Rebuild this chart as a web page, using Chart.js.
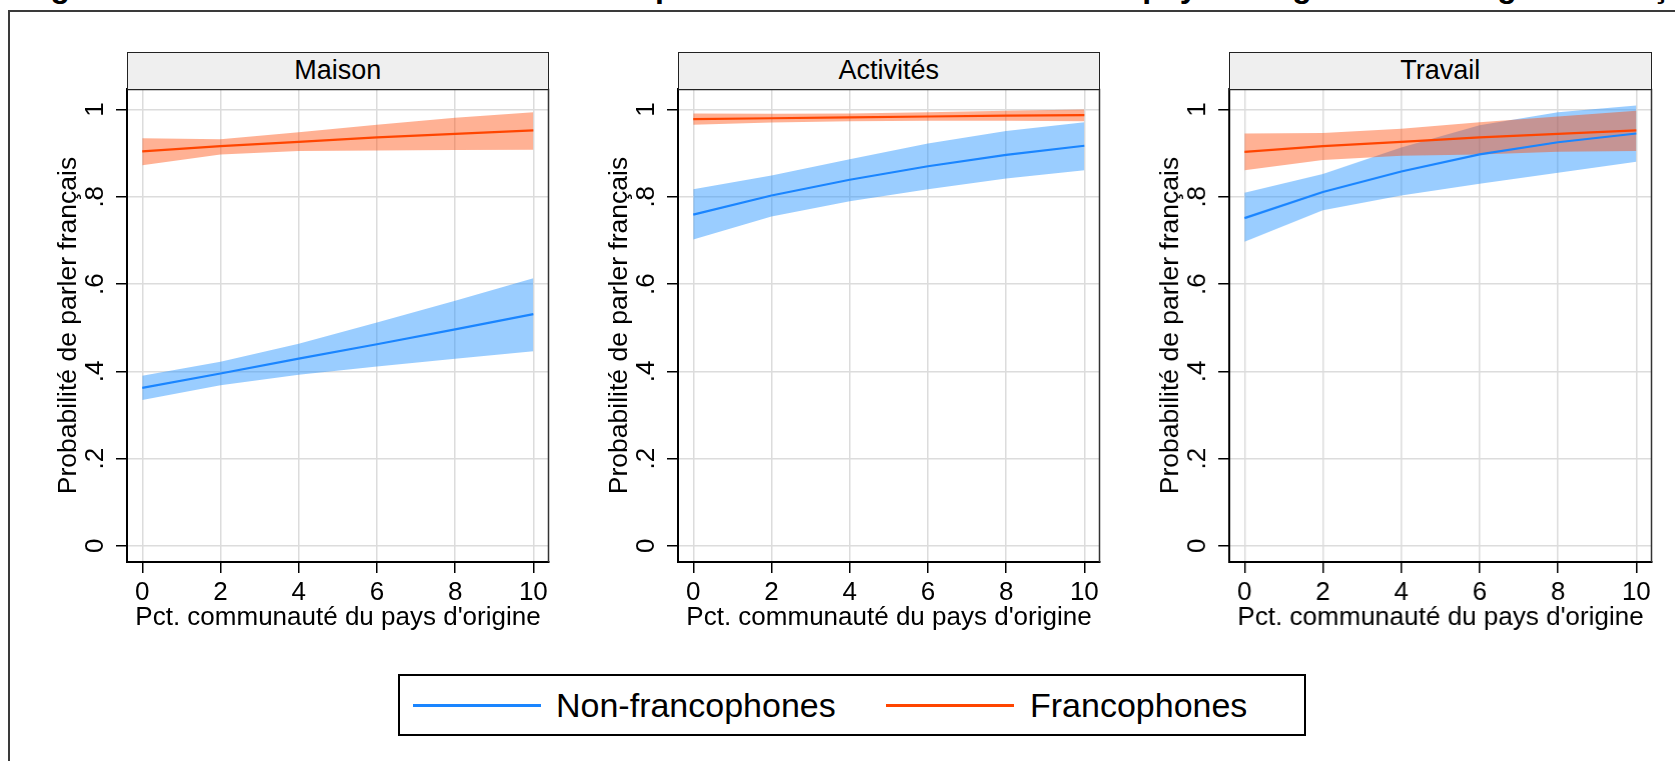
<!DOCTYPE html>
<html>
<head>
<meta charset="utf-8">
<script src="https://cdn.jsdelivr.net/npm/chart.js@4.4.1/dist/chart.umd.min.js"></script>
<style>
  html, body { margin:0; padding:0; }
  body { width:1675px; height:761px; overflow:hidden; background:#fff; position:relative;
         font-family:"Liberation Sans", Arial, Helvetica, sans-serif; color:#000; }
  #frame { position:absolute; left:8px; top:10px; width:1720px; height:820px;
           border:2px solid #3a3a3a; box-sizing:border-box; }
  #title { position:absolute; left:22px; top:-30px; font-weight:bold; font-size:32px;
           line-height:32px; white-space:nowrap; }
  .strip { position:absolute; height:38px; background:#efefef; border:1.5px solid #222;
           box-sizing:border-box; text-align:center; font-size:27px; line-height:35px; }
  .panel { position:absolute; }
  #legend { position:absolute; left:398px; top:674px; width:908px; height:62px;
            border:2px solid #000; box-sizing:border-box; background:#fff; }
  .lgline { position:absolute; top:28px; height:3px; width:128px; }
  .lgtext { position:absolute; top:8px; font-size:34px; line-height:42px; white-space:nowrap; }
</style>
</head>
<body>
<div id="frame"></div>
<div id="title">Figure 11 : Effet de la concentration de la présence des communautés du pays d'origine sur l'usage du français</div>
<div id="panels"></div>
<div id="legend"></div>
<script>
// ---------- data ----------
const panelNames = ["Maison", "Activités", "Travail"];
const seriesNames = ["Non-francophones", "Francophones"];
const xValues = [0, 2, 4, 6, 8, 10];
const xTicks = [0, 2, 4, 6, 8, 10];
const yTicks = [0, 0.2, 0.4, 0.6, 0.8, 1];
const yTickLabels = ["0", ".2", ".4", ".6", ".8", "1"];
const xTitle = "Pct. communauté du pays d'origine";
const yTitle = "Probabilité de parler français";

// Maison
const maisonNonFr     = [0.362, 0.395, 0.429, 0.462, 0.496, 0.531];
const maisonNonFrLow  = [0.334, 0.368, 0.392, 0.411, 0.429, 0.446];
const maisonNonFrHigh = [0.390, 0.422, 0.463, 0.512, 0.562, 0.613];
const maisonFr        = [0.904, 0.916, 0.926, 0.936, 0.944, 0.952];
const maisonFrLow     = [0.872, 0.897, 0.905, 0.906, 0.907, 0.908];
const maisonFrHigh    = [0.934, 0.932, 0.948, 0.965, 0.981, 0.994];
// Activités
const activNonFr      = [0.759, 0.803, 0.839, 0.870, 0.896, 0.917];
const activNonFrLow   = [0.702, 0.755, 0.790, 0.817, 0.842, 0.861];
const activNonFrHigh  = [0.817, 0.849, 0.886, 0.922, 0.951, 0.971];
const activFr         = [0.978, 0.980, 0.982, 0.984, 0.986, 0.987];
const activFrLow      = [0.965, 0.970, 0.973, 0.974, 0.974, 0.973];
const activFrHigh     = [0.991, 0.990, 0.991, 0.994, 0.997, 1.000];
// Travail
const travNonFr       = [0.751, 0.811, 0.858, 0.897, 0.925, 0.945];
const travNonFrLow    = [0.697, 0.769, 0.803, 0.830, 0.855, 0.880];
const travNonFrHigh   = [0.809, 0.852, 0.913, 0.964, 0.994, 1.009];
const travFr          = [0.903, 0.916, 0.926, 0.936, 0.944, 0.952];
const travFrLow       = [0.861, 0.884, 0.894, 0.897, 0.903, 0.905];
const travFrHigh      = [0.945, 0.946, 0.956, 0.971, 0.984, 0.997];

const panelData = [
  { nonFr: maisonNonFr, nonFrLow: maisonNonFrLow, nonFrHigh: maisonNonFrHigh, fr: maisonFr, frLow: maisonFrLow, frHigh: maisonFrHigh },
  { nonFr: activNonFr,  nonFrLow: activNonFrLow,  nonFrHigh: activNonFrHigh,  fr: activFr,  frLow: activFrLow,  frHigh: activFrHigh },
  { nonFr: travNonFr,   nonFrLow: travNonFrLow,   nonFrHigh: travNonFrHigh,   fr: travFr,   frLow: travFrLow,   frHigh: travFrHigh }
];

// ---------- style / layout ----------
const FONT = '"Liberation Sans", Arial, Helvetica, sans-serif';
const BLUE = '#1a85ff';
const ORANGE = '#ff4500';
const BLUE_BAND = 'rgba(30,144,255,0.45)';
const ORANGE_BAND = 'rgba(255,69,0,0.42)';
const plotLefts = [126.5, 677.5, 1229];
const plotWidth = 422.5;
const plotTop = 89;
const plotHeight = 473;
const AXIS_W = 120, PAD_TOP = 30, PAD_RIGHT = 20, XAXIS_H = 80;

Chart.defaults.font.family = FONT;
Chart.defaults.color = '#000';

function pts(arr) { return xValues.map((x, i) => ({ x: x, y: arr[i] })); }

const framePlugin = {
  id: 'frameLines',
  afterDatasetsDraw(chart) {
    const a = chart.chartArea, c = chart.ctx;
    c.save();
    c.strokeStyle = '#333';
    c.lineWidth = 1.5;
    c.beginPath();
    c.moveTo(a.left, a.top + 0.5); c.lineTo(a.right - 0.5, a.top + 0.5);
    c.lineTo(a.right - 0.5, a.bottom);
    c.stroke();
    c.restore();
  }
};

const panelsDiv = document.getElementById('panels');
panelNames.forEach((name, idx) => {
  const strip = document.createElement('div');
  strip.className = 'strip';
  strip.style.left = plotLefts[idx] + 'px';
  strip.style.top = (plotTop - 37) + 'px';
  strip.style.width = plotWidth + 'px';
  strip.textContent = name;

  const wrap = document.createElement('div');
  wrap.className = 'panel';
  const cw = AXIS_W + plotWidth + PAD_RIGHT, ch = PAD_TOP + plotHeight + XAXIS_H;
  wrap.style.left = (plotLefts[idx] - AXIS_W) + 'px';
  wrap.style.top = (plotTop - PAD_TOP) + 'px';
  wrap.style.width = cw + 'px';
  wrap.style.height = ch + 'px';
  const cv = document.createElement('canvas');
  cv.width = cw; cv.height = ch;
  cv.style.width = cw + 'px'; cv.style.height = ch + 'px';
  wrap.appendChild(cv);
  panelsDiv.appendChild(wrap);
  panelsDiv.appendChild(strip);

  const d = panelData[idx];
  new Chart(cv.getContext('2d'), {
    type: 'line',
    data: {
      datasets: [
        { label: seriesNames[0] + ' bas', data: pts(d.nonFrLow), borderWidth: 0, pointRadius: 0, fill: false, order: 3 },
        { label: seriesNames[0] + ' haut', data: pts(d.nonFrHigh), borderWidth: 0, pointRadius: 0, fill: '-1', backgroundColor: BLUE_BAND, order: 3 },
        { label: seriesNames[1] + ' bas', data: pts(d.frLow), borderWidth: 0, pointRadius: 0, fill: false, order: 2 },
        { label: seriesNames[1] + ' haut', data: pts(d.frHigh), borderWidth: 0, pointRadius: 0, fill: '-1', backgroundColor: ORANGE_BAND, order: 2 },
        { label: seriesNames[0], data: pts(d.nonFr), borderColor: BLUE, borderWidth: 2.2, pointRadius: 0, fill: false, tension: 0, order: 1 },
        { label: seriesNames[1], data: pts(d.fr), borderColor: ORANGE, borderWidth: 2.2, pointRadius: 0, fill: false, tension: 0, order: 0 }
      ]
    },
    options: {
      responsive: false, animation: false, devicePixelRatio: 1,
      layout: { padding: { top: PAD_TOP, right: PAD_RIGHT, bottom: 0, left: 0 } },
      plugins: { legend: { display: false }, tooltip: { enabled: false } },
      scales: {
        x: {
          type: 'linear', min: -0.39, max: 10.4,
          afterBuildTicks: s => { s.ticks = xTicks.map(v => ({ value: v })); },
          afterFit: s => { s.height = XAXIS_H; },
          grid: { color: '#dcdcdc', lineWidth: 1.5, tickColor: '#000', tickLength: 11, tickWidth: 1.5 },
          border: { display: true, color: '#000', width: 2 },
          ticks: { font: { size: 26, family: FONT }, color: '#000', padding: 4, maxRotation: 0, minRotation: 0, autoSkip: false,
                   callback: v => String(v) },
          title: { display: true, text: xTitle, font: { size: 26, family: FONT }, color: '#000', padding: { top: 0, bottom: 9 } }
        },
        y: {
          type: 'linear', min: -0.037, max: 1.047,
          afterBuildTicks: s => { s.ticks = yTicks.map(v => ({ value: v })); },
          afterFit: s => { s.width = AXIS_W; },
          grid: { color: '#dcdcdc', lineWidth: 1.5, tickColor: '#000', tickLength: 11, tickWidth: 1.5 },
          border: { display: true, color: '#000', width: 2 },
          ticks: { font: { size: 26, family: FONT }, color: '#000', padding: 9, minRotation: 90, maxRotation: 90,
                   crossAlign: 'center', autoSkip: false,
                   callback: (v, i) => yTickLabels[yTicks.indexOf(v)] !== undefined ? yTickLabels[yTicks.indexOf(v)] : yTickLabels[i] },
          title: { display: true, text: yTitle, font: { size: 26.5, family: FONT }, color: '#000', padding: { top: 46, bottom: 0 } }
        }
      }
    },
    plugins: [framePlugin]
  });
});

// ---------- legend ----------
const legend = document.getElementById('legend');
const legendItems = [
  { name: seriesNames[0], color: BLUE, lineLeft: 13, textLeft: 156 },
  { name: seriesNames[1], color: ORANGE, lineLeft: 486, textLeft: 630 }
];
legendItems.forEach(it => {
  const l = document.createElement('div');
  l.className = 'lgline'; l.style.left = it.lineLeft + 'px'; l.style.background = it.color;
  const t = document.createElement('div');
  t.className = 'lgtext'; t.style.left = it.textLeft + 'px'; t.textContent = it.name;
  legend.appendChild(l); legend.appendChild(t);
});
</script>
</body>
</html>
